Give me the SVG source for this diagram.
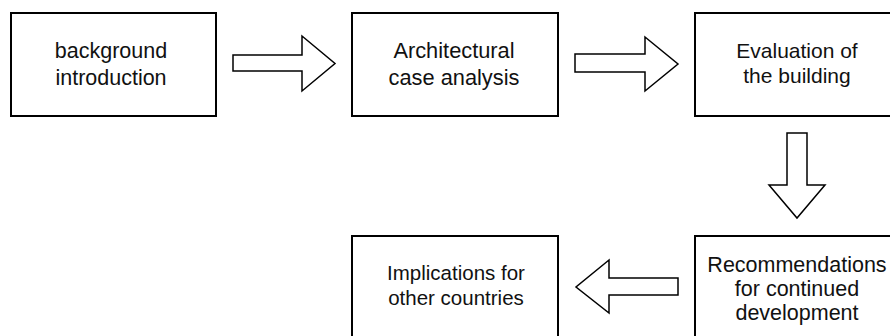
<svg xmlns="http://www.w3.org/2000/svg" width="890" height="336" viewBox="0 0 890 336">
<style>
.box{fill:#fff;stroke:#000;stroke-width:2}
.arr{fill:#fff;stroke:#000;stroke-width:1.5;stroke-linejoin:miter}
text{font-family:"Liberation Sans",Arial,sans-serif;fill:#111;text-anchor:middle}
</style>
<rect width="890" height="336" fill="#fff"/>
<g id="n1">
<rect class="box" x="11" y="13" width="205" height="103"/>
<text font-size="21.5"><tspan x="111" y="58">background</tspan><tspan x="111" y="85">introduction</tspan></text>
</g>
<g id="n2">
<rect class="box" x="352" y="13" width="206" height="103"/>
<text font-size="21.8"><tspan x="454" y="58">Architectural</tspan><tspan x="454" y="85">case analysis</tspan></text>
</g>
<g id="n3">
<rect class="box" x="695" y="13" width="206" height="103"/>
<text font-size="21"><tspan x="797" y="58">Evaluation of</tspan><tspan x="797" y="83">the building</tspan></text>
</g>
<g id="n4">
<rect class="box" x="695" y="236" width="206" height="110"/>
<text font-size="21.5"><tspan x="797" y="272">Recommendations</tspan><tspan x="797" y="296">for continued</tspan><tspan x="797" y="320">development</tspan></text>
</g>
<g id="n5">
<rect class="box" x="352" y="236" width="206" height="110"/>
<text font-size="20.5"><tspan x="456" y="280">Implications for</tspan><tspan x="456" y="305">other countries</tspan></text>
</g>
<g id="connectors">
<polygon class="arr" points="233,55 302,55 302,36 335,63.5 302,91 302,71 233,71"/>
<polygon class="arr" points="575,54 645,54 645,37 678,64 645,91 645,72 575,72"/>
<polygon class="arr" points="787,133 807,133 807,185 825,185 797,218 769,185 787,185"/>
<polygon class="arr" points="678,278 609,278 609,260 576,287 609,313 609,295 678,295"/>
</g>
</svg>
